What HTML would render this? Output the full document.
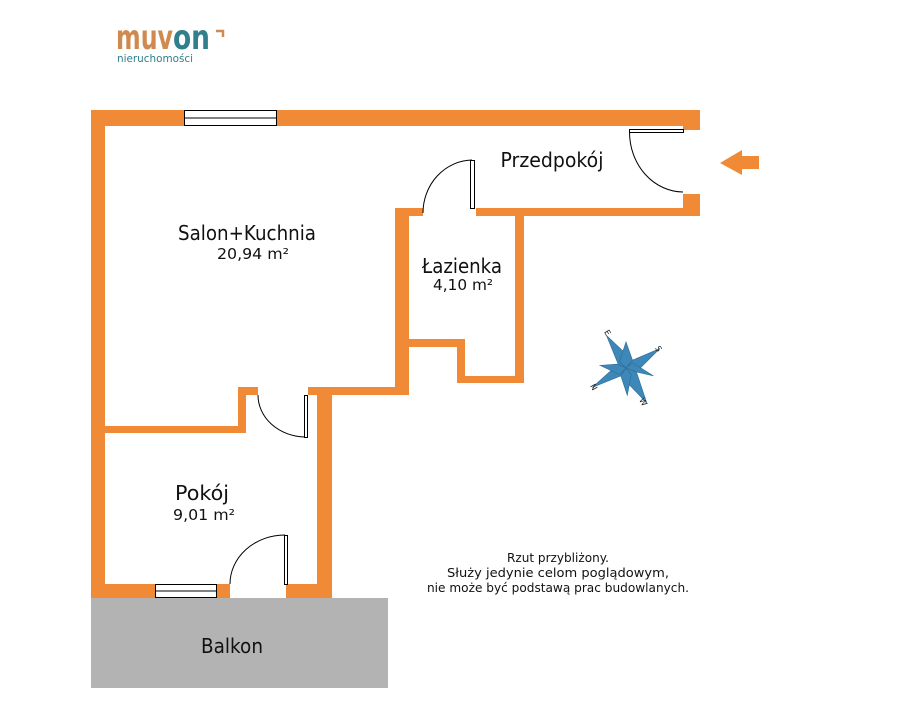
<!DOCTYPE html>
<html><head><meta charset="utf-8"><style>
html,body{margin:0;padding:0;background:#fff;width:906px;height:708px;overflow:hidden}
svg{display:block}
text{font-family:"DejaVu Sans","Liberation Sans",sans-serif}
</style></head><body>
<svg width="906" height="708" viewBox="0 0 906 708" xmlns="http://www.w3.org/2000/svg">
<text x="116" y="49" font-size="34" font-weight="bold" fill="#d08a4f" font-family="Liberation Sans, sans-serif" textLength="57" lengthAdjust="spacingAndGlyphs">muv</text>
<text x="173" y="49" font-size="34" font-weight="bold" fill="#2f7f8c" font-family="Liberation Sans, sans-serif" textLength="37" lengthAdjust="spacingAndGlyphs">on</text>
<path d="M216 31 h7 v6" stroke="#d08a4f" stroke-width="2.5" fill="none"/>
<text x="117" y="62" font-size="11" fill="#2f7f8c" textLength="76" lengthAdjust="spacingAndGlyphs">nieruchomości</text>

<rect x="91" y="598" width="297" height="90" fill="#b3b3b3"/>
<text x="232" y="653" font-size="20" fill="#111" text-anchor="middle" textLength="62" lengthAdjust="spacingAndGlyphs">Balkon</text>

<g fill="#f08a37">
<rect x="91" y="110" width="609" height="16"/>
<rect x="683" y="110" width="17" height="20"/>
<rect x="91" y="110" width="14" height="488"/>
<rect x="91" y="584" width="64" height="14"/>
<rect x="217" y="584" width="13" height="14"/>
<rect x="286" y="584" width="46" height="14"/>
<rect x="317" y="387" width="15" height="211"/>
<rect x="308" y="387" width="101" height="8"/>
<rect x="91" y="426" width="155" height="7"/>
<rect x="238" y="387" width="8" height="46"/>
<rect x="238" y="387" width="20" height="8"/>
<rect x="395" y="208" width="14" height="187"/>
<rect x="395" y="208" width="28" height="8"/>
<rect x="476" y="208" width="224" height="8"/>
<rect x="683" y="194" width="17" height="22"/>
<rect x="515" y="208" width="9" height="175"/>
<rect x="457" y="376" width="67" height="7"/>
<rect x="457" y="339" width="8" height="44"/>
<rect x="405" y="339" width="60" height="8"/>
<polygon points="720,163 742,150 742,156 759,156 759,169 742,169 742,175"/>
</g>

<g fill="#fff" stroke="#000" stroke-width="1">
<rect x="184.5" y="110.5" width="92" height="15"/>
<line x1="184.5" y1="118" x2="276.5" y2="118"/>
<rect x="155.5" y="584.5" width="61" height="13"/>
<line x1="155.5" y1="591" x2="216.5" y2="591"/>
<rect x="629.5" y="129.5" width="54" height="3"/>
<rect x="470.5" y="160.5" width="4" height="48"/>
<rect x="304.5" y="395.5" width="3" height="42"/>
<rect x="284.5" y="535.5" width="3" height="49"/>
</g>
<g fill="none" stroke="#000" stroke-width="1">
<path d="M629.5 132 A54 60 0 0 0 683 192"/>
<path d="M423 213 A50 53 0 0 1 472 160"/>
<path d="M258 395 A48 42 0 0 0 305 437"/>
<path d="M230 584 A55 49 0 0 1 285 535"/>
</g>

<g transform="translate(626,368) scale(1.3) translate(-626,-368)">
<g fill="#3d88b8" stroke="#2f6f99" stroke-width="0.5">
<polygon points="611,343 631,362 626,368 620,365"/>
<polygon points="652,353 631,362 626,368 634,371"/>
<polygon points="600,383 620,365 626,368 622,374"/>
<polygon points="642,395 634,371 626,368 622,374"/>
<polygon points="626,348 631,362 626,368 621,363"/>
<polygon points="647,374 634,371 626,368 631,364"/>
<polygon points="606,366 620,365 626,368 621,373"/>
<polygon points="627,389 622,374 626,368 630,373"/>
</g>
</g>
<g font-size="8" fill="#222" font-family="Liberation Sans, sans-serif">
<text x="605" y="336" transform="rotate(60 608 333)">E</text>
<text x="656" y="352" transform="rotate(60 659 349)">S</text>
<text x="591" y="390" transform="rotate(60 594 387)">N</text>
<text x="640" y="404" transform="rotate(60 643 401)">W</text>
</g>

<g fill="#111" text-anchor="middle">
<text x="247" y="240" font-size="20" textLength="138" lengthAdjust="spacingAndGlyphs">Salon+Kuchnia</text>
<text x="253" y="259" font-size="15" textLength="72" lengthAdjust="spacingAndGlyphs">20,94 m²</text>
<text x="552" y="167" font-size="20" textLength="103" lengthAdjust="spacingAndGlyphs">Przedpokój</text>
<text x="462" y="273" font-size="20" textLength="80" lengthAdjust="spacingAndGlyphs">Łazienka</text>
<text x="463" y="290" font-size="15" textLength="60" lengthAdjust="spacingAndGlyphs">4,10 m²</text>
<text x="202" y="500" font-size="20" textLength="54" lengthAdjust="spacingAndGlyphs">Pokój</text>
<text x="204" y="520" font-size="15" textLength="62" lengthAdjust="spacingAndGlyphs">9,01 m²</text>
<text x="558" y="562" font-size="12.5" textLength="102" lengthAdjust="spacingAndGlyphs">Rzut przybliżony.</text>
<text x="558" y="577" font-size="12.5" textLength="222" lengthAdjust="spacingAndGlyphs">Służy jedynie celom poglądowym,</text>
<text x="558" y="592" font-size="12.5" textLength="262" lengthAdjust="spacingAndGlyphs">nie może być podstawą prac budowlanych.</text>
</g>
</svg>
</body></html>
